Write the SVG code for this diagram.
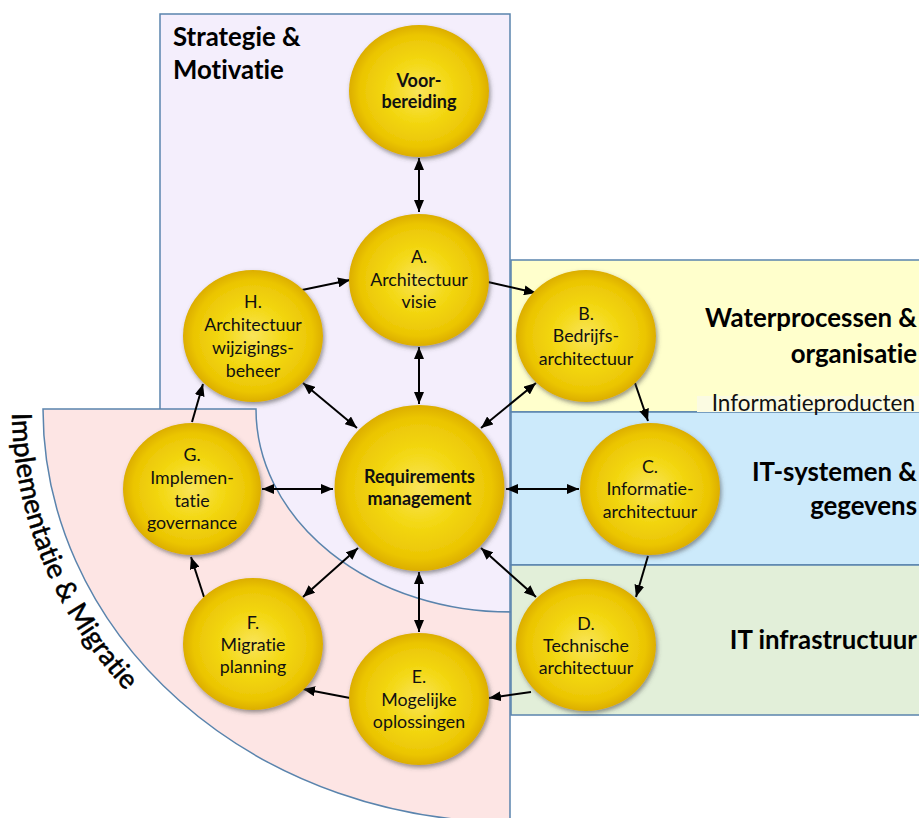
<svg xmlns="http://www.w3.org/2000/svg" width="919" height="818" viewBox="0 0 919 818">
<defs>
<radialGradient id="gold" cx="50%" cy="50%" r="50%">
<stop offset="0" stop-color="#f9e45a"/>
<stop offset="0.45" stop-color="#f3d813"/>
<stop offset="0.85" stop-color="#ebc503"/>
<stop offset="1" stop-color="#dcae00"/>
</radialGradient>
<filter id="sh" x="-20%" y="-20%" width="150%" height="150%">
<feDropShadow dx="1.5" dy="2.5" stdDeviation="2" flood-color="#444" flood-opacity="0.55"/>
</filter>
<marker id="ah" viewBox="0 0 12 10" refX="12" refY="5" markerWidth="12" markerHeight="10" markerUnits="userSpaceOnUse" orient="auto-start-reverse">
<path d="M0,0 L12,5 L0,10 z" fill="#000"/>
</marker>
<path id="arcText" d="M 12,409 A 498,443 0 0 0 510,852"/>
</defs>
<style>
text{font-variant-ligatures:none}
.zone{stroke:#5a84ad;stroke-width:1.5}
.node ellipse{fill:url(#gold);filter:url(#sh)}
.lbl{font-family:Lato,Carlito,"Liberation Sans",sans-serif;font-size:17.8px;fill:#111;text-anchor:middle}
.b{font-weight:bold;font-size:18px}
.big{font-family:Lato,Carlito,"Liberation Sans",sans-serif;font-size:25.8px;font-weight:bold;fill:#000}
.end{text-anchor:end}
.con line{stroke:#000;stroke-width:2;marker-end:url(#ah)}
.con line.bi{marker-start:url(#ah)}
</style>
<rect width="919" height="818" fill="#fff"/>
<g id="zones">
<rect class="zone" x="160" y="14" width="350" height="598" fill="#f4eefc"/>
<rect class="zone" x="511" y="260" width="420" height="152" fill="#ffffcc"/>
<rect class="zone" x="511" y="412" width="420" height="153" fill="#cceafb"/>
<rect class="zone" x="511" y="565" width="420" height="150" fill="#e2efd9"/>
<path class="zone" d="M 43,409 L 256,409 A 254,203 0 0 0 510,612 L 510,822 A 467,413 0 0 1 43,409 Z" fill="#fde5e4"/>
<rect x="697" y="396" width="225" height="16" fill="#fbfbe2"/>
</g>
<g id="zone-labels">
<text class="big" x="173" y="46">Strategie &amp;</text>
<text class="big" x="173" y="79">Motivatie</text>
<text class="big end" x="917" y="327">Waterprocessen &amp;</text>
<text class="big end" x="917" y="363">organisatie</text>
<text class="big end" x="917" y="481">IT-systemen &amp;</text>
<text class="big end" x="917" y="515">gegevens</text>
<text class="big end" x="917" y="649">IT infrastructuur</text>
<text x="915" y="411" font-family="Lato,Carlito,'Liberation Sans',sans-serif" font-size="22.5" fill="#111" text-anchor="end">Informatieproducten</text>
<text font-family="Lato,Carlito,'Liberation Sans',sans-serif" font-size="27.5" fill="#000" stroke="#000" stroke-width="0.5"><textPath href="#arcText" startOffset="4">Implementatie &amp; Migratie</textPath></text>
</g>
<g id="connectors" class="con">
<line class="bi" x1="419" y1="158" x2="419" y2="212"/>
<line x1="302" y1="290" x2="350" y2="280"/>
<line x1="488" y1="282" x2="536" y2="293"/>
<line x1="635" y1="383" x2="648" y2="421"/>
<line x1="648" y1="556" x2="636" y2="597"/>
<line x1="531" y1="692" x2="489" y2="698"/>
<line x1="350" y1="698" x2="303" y2="689"/>
<line x1="204" y1="597" x2="191" y2="557"/>
<line x1="192" y1="422" x2="203" y2="384"/>
<line class="bi" x1="419" y1="347" x2="419" y2="404"/>
<line class="bi" x1="303" y1="383" x2="357" y2="428"/>
<line class="bi" x1="536" y1="383" x2="481" y2="428"/>
<line class="bi" x1="262" y1="489" x2="333" y2="489"/>
<line class="bi" x1="506" y1="489" x2="579" y2="489"/>
<line class="bi" x1="303" y1="597" x2="358" y2="548"/>
<line class="bi" x1="481" y1="548" x2="536" y2="597"/>
<line class="bi" x1="419" y1="572" x2="419" y2="632"/>
</g>
<g id="voorbereiding" class="node">
<ellipse cx="419" cy="91" rx="70" ry="66"/>
<text class="lbl b" x="419" y="87">Voor-</text>
<text class="lbl b" x="419" y="108">bereiding</text>
</g>
<g id="a-visie" class="node">
<ellipse cx="419" cy="280" rx="70" ry="66"/>
<text class="lbl" x="419" y="263">A.</text>
<text class="lbl" x="419" y="286">Architectuur</text>
<text class="lbl" x="419" y="308">visie</text>
</g>
<g id="h-wijziging" class="node">
<ellipse cx="253" cy="336" rx="70" ry="66"/>
<text class="lbl" x="253" y="308">H.</text>
<text class="lbl" x="253" y="331">Architectuur</text>
<text class="lbl" x="253" y="354">wijzigings-</text>
<text class="lbl" x="253" y="377">beheer</text>
</g>
<g id="b-bedrijf" class="node">
<ellipse cx="586" cy="336" rx="70" ry="66"/>
<text class="lbl" x="586" y="320">B.</text>
<text class="lbl" x="586" y="342">Bedrijfs-</text>
<text class="lbl" x="586" y="365">architectuur</text>
</g>
<g id="requirements" class="node">
<ellipse cx="419.5" cy="488" rx="85" ry="83"/>
<text class="lbl b" x="419.5" y="483">Requirements</text>
<text class="lbl b" x="419.5" y="505">management</text>
</g>
<g id="g-governance" class="node">
<ellipse cx="192" cy="489" rx="69" ry="66"/>
<text class="lbl" x="192" y="461">G.</text>
<text class="lbl" x="192" y="484">Implemen-</text>
<text class="lbl" x="192" y="507">tatie</text>
<text class="lbl" x="192" y="529">governance</text>
</g>
<g id="c-informatie" class="node">
<ellipse cx="650" cy="489" rx="70" ry="66"/>
<text class="lbl" x="650" y="473">C.</text>
<text class="lbl" x="650" y="495">Informatie-</text>
<text class="lbl" x="650" y="518">architectuur</text>
</g>
<g id="f-migratie" class="node">
<ellipse cx="253" cy="644" rx="70" ry="66"/>
<text class="lbl" x="253" y="629">F.</text>
<text class="lbl" x="253" y="651">Migratie</text>
<text class="lbl" x="253" y="673">planning</text>
</g>
<g id="d-technisch" class="node">
<ellipse cx="586" cy="645" rx="70" ry="66"/>
<text class="lbl" x="586" y="630">D.</text>
<text class="lbl" x="586" y="652">Technische</text>
<text class="lbl" x="586" y="674">architectuur</text>
</g>
<g id="e-oplossingen" class="node">
<ellipse cx="419" cy="699" rx="70" ry="66"/>
<text class="lbl" x="419" y="683">E.</text>
<text class="lbl" x="419" y="706">Mogelijke</text>
<text class="lbl" x="419" y="728">oplossingen</text>
</g>
</svg>
